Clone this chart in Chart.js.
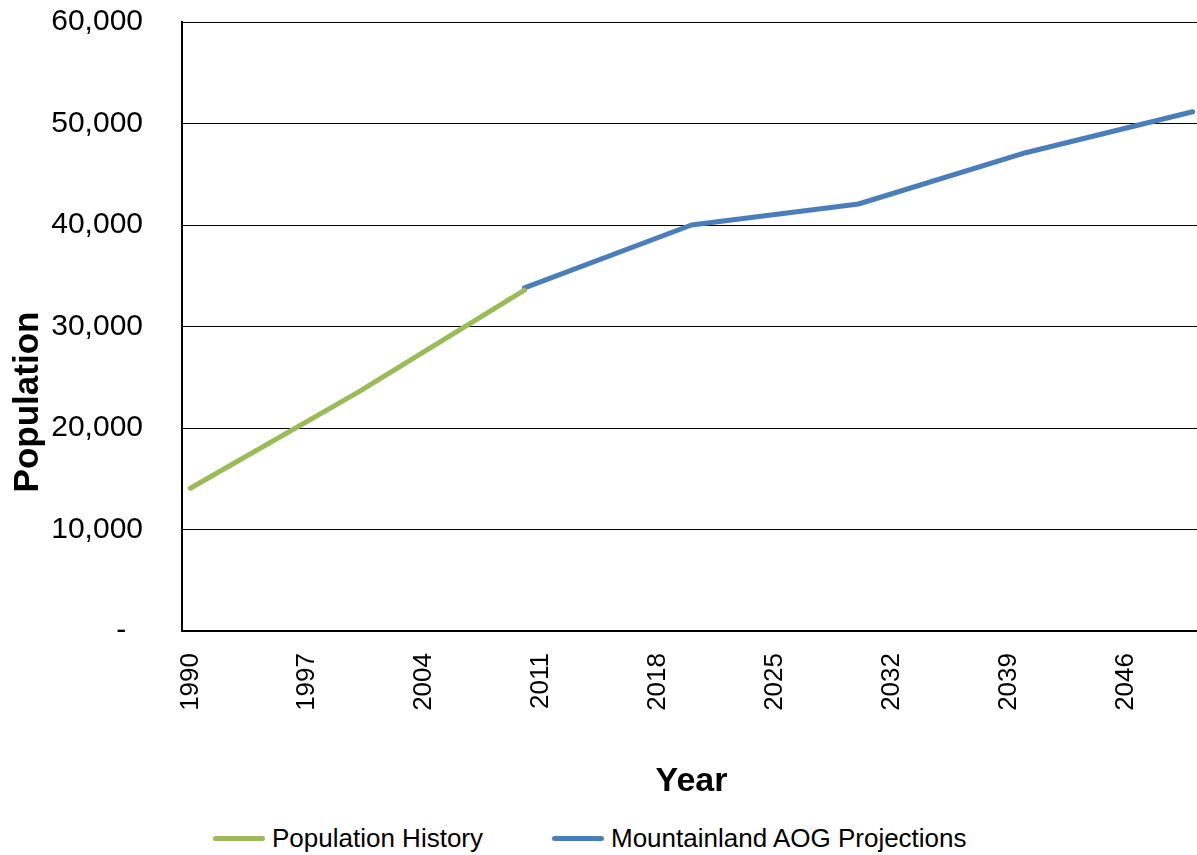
<!DOCTYPE html>
<html>
<head>
<meta charset="utf-8">
<script src="https://cdn.jsdelivr.net/npm/chart.js@4.4.1/dist/chart.umd.min.js"></script>
<style>
    html, body { margin: 0; padding: 0; background: #fff; overflow: hidden; }
    #wrap { position: relative; width: 1197px; height: 855px; overflow: hidden; }
    #population-chart { position: absolute; left: 0; top: 0; }
    .chart-legend {
        position: absolute; left: 213px; top: 823px; height: 30px;
        display: flex; align-items: center;
        list-style: none; margin: 0; padding: 0;
        font-family: "Liberation Sans", Arial, sans-serif; font-size: 26px; color: #000;
        white-space: nowrap;
    }
    .chart-legend li { display: flex; align-items: center; margin-right: 69px; }
    .chart-legend-line { width: 52px; height: 5px; border-radius: 3px; margin-right: 7px; }
</style>
</head>
<body>
<div id="wrap">
    <canvas id="population-chart" width="1201" height="812"></canvas>
    <ul class="chart-legend" id="population-legend"></ul>
</div>
<script>
// datos
const historyYears = [1990, 2000, 2010];
const historyValues = [14060, 23480, 33590];

const projectionYears = [2010, 2020, 2030, 2040, 2050];
const projectionValues = [33800, 40000, 42070, 47120, 51160];

const xTickYears = [1990, 1997, 2004, 2011, 2018, 2025, 2032, 2039, 2046];
const yTickValues = [0, 10000, 20000, 30000, 40000, 50000, 60000];

const seriesLabels = ['Population History', 'Mountainland AOG Projections'];
const seriesColors = ['#9BBB59', '#4A7EBB'];

const FONT = '"Liberation Sans", Arial, sans-serif';

// "Population" rotado, un poco por debajo del centro como en el original
const yTitlePlugin = {
    id: 'yTitle',
    afterDraw(chart) {
        const ctx = chart.ctx;
        ctx.save();
        ctx.translate(38, 402);
        ctx.rotate(-Math.PI / 2);
        ctx.font = 'bold 35px ' + FONT;
        ctx.fillStyle = '#000';
        ctx.textAlign = 'center';
        ctx.textBaseline = 'alphabetic';
        ctx.fillText('Population', 0, 0);
        ctx.restore();
    }
};

const toPoints = (xs, ys) => xs.map((x, i) => ({ x: x, y: ys[i] }));

const chartData = {
    datasets: [
        {
            label: seriesLabels[0],
            data: toPoints(historyYears, historyValues),
            borderColor: seriesColors[0],
            backgroundColor: seriesColors[0],
            borderWidth: 5,
            borderCapStyle: 'round',
            borderJoinStyle: 'round',
            pointRadius: 0,
            tension: 0,
        },
        {
            label: seriesLabels[1],
            data: toPoints(projectionYears, projectionValues),
            borderColor: seriesColors[1],
            backgroundColor: seriesColors[1],
            borderWidth: 5,
            borderCapStyle: 'round',
            borderJoinStyle: 'round',
            pointRadius: 0,
            tension: 0,
        }
    ]
};

new Chart(document.getElementById('population-chart'), {
    type: 'line',
    data: chartData,
    plugins: [yTitlePlugin],
    options: {
        responsive: false,
        animation: false,
        layout: { padding: { top: 22, left: 0, right: 0, bottom: 0 } },
        plugins: {
            legend: { display: false },
            tooltip: { enabled: false }
        },
        scales: {
            x: {
                type: 'linear',
                min: 1989.5,
                max: 2050.5,
                afterBuildTicks: scale => {
                    scale.ticks = xTickYears.map(v => ({ value: v }));
                },
                afterFit: scale => {
                    scale.height = 181;
                    scale.paddingLeft = 0;
                    scale.paddingRight = 0;
                },
                grid: { display: false, drawTicks: false },
                border: { display: true, color: '#000', width: 2 },
                ticks: {
                    autoSkip: false,
                    minRotation: 90,
                    maxRotation: 90,
                    padding: 22,
                    color: '#000',
                    font: { family: FONT, size: 26 },
                    callback: v => String(v)
                },
                title: {
                    display: true,
                    text: 'Year',
                    color: '#000',
                    font: { family: FONT, size: 34, weight: 'bold' },
                    padding: { top: 50, bottom: 10 }
                }
            },
            y: {
                min: 0,
                max: 60000,
                afterBuildTicks: scale => {
                    scale.ticks = yTickValues.map(v => ({ value: v }));
                },
                afterFit: scale => {
                    scale.width = 182;
                    scale.paddingTop = 0;
                    scale.paddingBottom = 0;
                },
                grid: { color: '#000', lineWidth: 1, drawTicks: false },
                border: { display: true, color: '#000', width: 2 },
                ticks: {
                    padding: 39,
                    color: '#000',
                    font: { family: FONT, size: 30 },
                    callback: v => v === 0 ? '-  ' : v.toLocaleString('en-US')
                }
            }
        }
    }
});

// leyenda manual
const legendEl = document.getElementById('population-legend');
legendEl.innerHTML = '';
seriesLabels.forEach((label, i) => {
    legendEl.innerHTML += `
    <li>
        <div class="chart-legend-line" style="background:${seriesColors[i]}"></div>
        <span>${label}</span>
    </li>`;
});
</script>
</body>
</html>
